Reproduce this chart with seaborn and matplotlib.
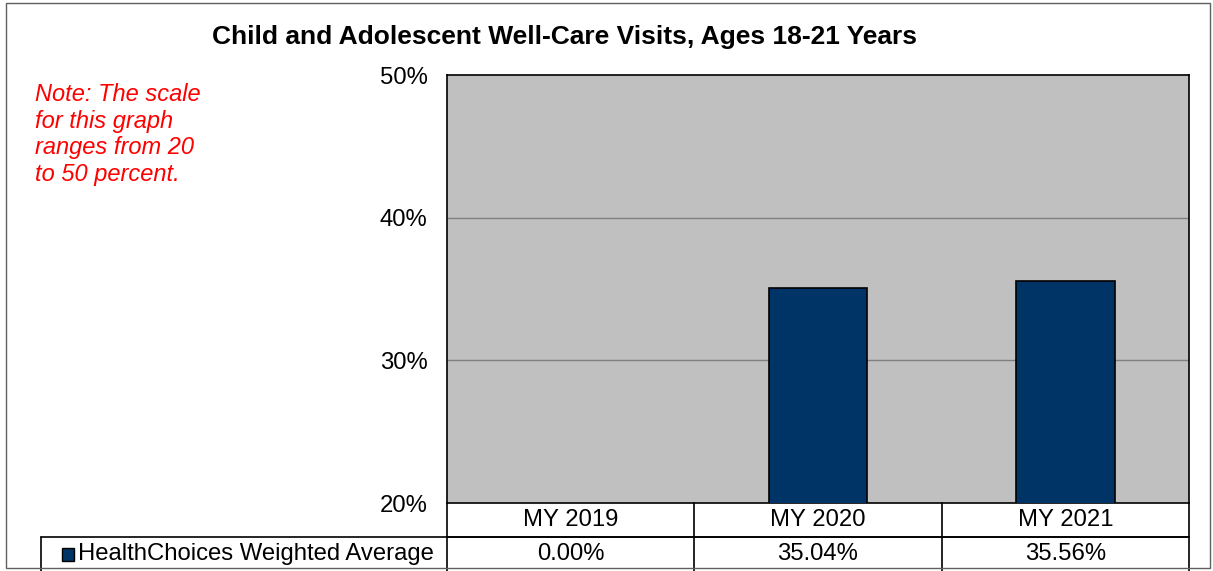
import matplotlib
matplotlib.use("Agg")
import matplotlib.pyplot as plt
import matplotlib.transforms as mtransforms
from matplotlib.patches import Rectangle
import pandas as pd
import seaborn as sns

# chart data
categories = ["MY 2019", "MY 2020", "MY 2021"]
values = [0.00, 35.04, 35.56]
series_name = "HealthChoices Weighted Average"
title = "Child and Adolescent Well-Care Visits, Ages 18-21 Years"
note = "Note: The scale\nfor this graph\nranges from 20\nto 50 percent."
y_ticks = [20, 30, 40, 50]

navy = "#003366"
fs = 17.2

sns.set_theme(style="white")
plt.rcParams["font.family"] = ["Liberation Sans", "DejaVu Sans"]
plt.rcParams["text.color"] = "black"
plt.rcParams["ytick.color"] = "black"

df = pd.DataFrame({"period": categories, "value": values})

W, H = 1213, 571
fig = plt.figure(figsize=(W / 100, H / 100), dpi=100)
fig.patch.set_facecolor("white")
ax = fig.add_axes([447 / W, 1 - 503 / H, (1189 - 447) / W, (503 - 75) / H])
ax.set_facecolor("#c0c0c0")

sns.barplot(data=df, x="period", y="value", color=navy, width=0.4,
            edgecolor="black", linewidth=1.2, saturation=1, ax=ax, zorder=3)

ax.set_ylim(20, 50)
ax.set_xlim(-0.5, len(categories) - 0.5)
ax.set_yticks(y_ticks)
ax.set_yticklabels([f"{t}%" for t in y_ticks], fontsize=fs)
ax.tick_params(axis="y", length=0, pad=14)
ax.set_xticks([])
ax.set_xlabel("")
ax.set_ylabel("")
for t in y_ticks[1:-1]:
    ax.axhline(t, color="#808080", lw=1, zorder=1)
for s in ax.spines.values():
    s.set_color("black")
    s.set_linewidth(1.2)

# data table under the plot
row_h = 34 / (503 - 75)
trans = mtransforms.blended_transform_factory(ax.transData, ax.transAxes)
legend_left = ax.transAxes.inverted().transform((41, 0))[0]
tab_kw = dict(color="black", lw=1.2, clip_on=False)

# horizontal lines
ax.plot([-0.5, 2.5], [-row_h, -row_h], transform=trans, **tab_kw)
ax.plot([legend_left, 1], [-row_h, -row_h], transform=ax.transAxes, **tab_kw)
# vertical lines
for b in range(len(categories) + 1):
    ax.plot([b - 0.5, b - 0.5], [0, -2.2 * row_h], transform=trans, **tab_kw)
ax.plot([legend_left, legend_left], [-row_h, -2.2 * row_h], transform=ax.transAxes, **tab_kw)

for i, (c, v) in enumerate(zip(categories, values)):
    ax.text(i, -0.5 * row_h, c, transform=trans, ha="center", va="center", fontsize=fs)
    ax.text(i, -1.5 * row_h, f"{v:.2f}%", transform=trans, ha="center", va="center", fontsize=fs)

# legend key inside table
key_x = ax.transAxes.inverted().transform((62, 0))[0]
key_w = 12 / (1189 - 447)
key_h = 13 / (503 - 75)
ax.add_patch(Rectangle((key_x, -1.5 * row_h - key_h / 2), key_w, key_h,
                       transform=ax.transAxes, facecolor=navy, edgecolor="black",
                       lw=1, clip_on=False))
ax.text(key_x + key_w + 4 / (1189 - 447), -1.5 * row_h, series_name,
        transform=ax.transAxes, ha="left", va="center", fontsize=fs)

fig.text(565 / W, 1 - 37 / H, title, ha="center", va="center",
         fontsize=19, fontweight="bold")
fig.text(35 / W, 1 - 83 / H, note, ha="left", va="top", fontsize=17,
         style="italic", color="red", linespacing=1.2)

# outer chart frame
fig.patches.append(Rectangle((6 / W, 1 - 568 / H), (1210 - 6) / W, (568 - 3) / H,
                             transform=fig.transFigure, fill=False,
                             edgecolor="#606060", lw=1))

fig.savefig("out.png", dpi=100)
